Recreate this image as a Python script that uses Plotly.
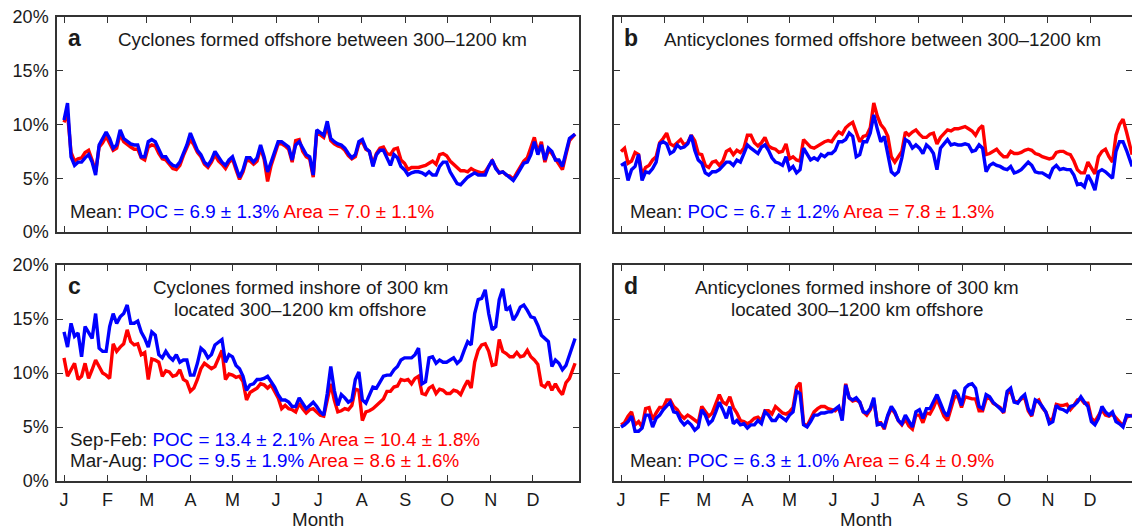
import plotly.graph_objects as go

W, H = 1132, 532

# sampling days (day of year): main grid every 5 days, plus offset grid in between
days_main = list(range(1, 362, 5)) + [365]
days_mid = [1 + 2.5 + 5 * k for k in range(72)]

month_ticks = [1, 32, 60, 91, 121, 152, 182, 213, 244, 274, 305, 335]
month_labels = ["J", "F", "M", "A", "M", "J", "J", "A", "S", "O", "N", "D"]
y_ticks = [0, 5, 10, 15, 20]
y_labels = ["0%", "5%", "10%", "15%", "20%"]

# ---- panel a: cyclones formed offshore 300-1200 km ----
a_poc = [10.4,7.0,6.5,6.9,6.5,8.1,9.3,7.8,9.5,8.4, 8.1,7.0,8.4,8.4,7.0,6.5,6.1,7.3,9.2,7.6,
         6.5,6.7,7.0,6.2,7.0,5.1,6.9,6.5,8.1,5.6, 7.5,8.4,7.9,8.1,7.8,7.0,9.5,9.0,8.7,8.2,
         7.8,6.9,8.4,7.8,6.1,7.6,6.9,7.2,6.1,5.3, 5.6,5.5,5.6,5.3,6.5,5.6,4.5,4.8,5.3,5.3,
         5.3,6.7,5.5,5.3,4.8,5.9,6.5,8.4,8.1,7.8, 6.7,6.1,8.7,9.1]
a_poc_mid = [12.0,6.2,6.5,7.2,5.3,8.7,8.7,8.1,8.7,8.2, 8.1,7.0,8.6,7.6,7.0,6.2,6.5,8.1,8.4,7.2,
             6.2,7.5,6.5,6.7,6.1,5.8,6.9,6.9,7.0,6.5, 8.4,8.1,6.7,8.4,7.2,5.3,9.2,10.3,8.4,8.1,
             7.3,7.2,8.6,7.5,7.2,7.6,6.2,6.9,5.8,5.5, 5.6,5.3,5.3,6.1,6.5,5.1,4.4,5.1,5.5,5.3,
             6.1,5.9,5.6,5.1,5.3,6.4,7.2,7.2,6.7,7.5, 6.7,7.5]
a_area = [10.2,7.4,6.8,7.4,6.7,7.9,8.9,7.6,9.1,8.1, 7.7,6.9,7.9,8.0,6.8,6.3,5.8,7.1,8.6,7.4,
          6.3,6.5,6.6,5.9,6.8,4.9,6.7,6.3,7.8,4.7, 7.2,8.2,7.7,8.5,7.5,6.8,9.3,8.8,8.5,8.0,
          7.6,6.8,8.2,7.7,6.3,7.8,7.3,7.7,6.7,5.8, 6.0,6.1,6.4,6.3,7.3,6.6,5.9,5.7,5.9,5.6,
          5.6,6.6,5.5,5.3,4.9,6.1,6.9,8.8,8.4,7.6, 6.8,5.8,8.5,9.1]
a_area_mid = [11.0,6.6,6.9,7.6,5.6,8.3,8.3,7.8,8.4,7.9, 7.7,6.7,8.1,7.3,6.7,5.9,6.2,7.8,8.1,7.0,
              6.0,7.2,6.3,6.5,5.8,5.6,6.6,6.6,6.8,6.2, 8.2,8.0,6.5,8.6,7.0,5.1,9.0,9.8,8.2,7.9,
              7.1,7.0,8.4,7.5,7.3,7.9,7.2,7.8,6.4,6.0, 6.0,6.2,6.6,7.2,7.1,6.3,5.7,5.6,5.7,5.5,
              6.1,6.0,5.6,5.2,5.5,6.6,7.8,7.4,6.5,7.3, 6.3,7.2]

# ---- panel b: anticyclones formed offshore 300-1200 km ----
b_poc = [6.2,4.8,6.1,4.8,5.5,6.5,8.4,7.3,8.1,7.9, 9.0,6.7,5.5,5.6,5.8,6.5,6.2,6.5,8.1,7.5,
         7.9,7.6,6.5,6.2,5.8,5.5,7.8,6.7,6.7,7.0, 7.3,8.4,8.6,8.9,7.2,8.4,10.9,8.4,7.2,5.3,
         6.9,8.4,8.1,7.3,7.8,5.8,8.2,8.1,8.1,8.2, 7.5,8.1,5.6,6.4,6.1,5.8,5.5,5.8,6.5,5.6,
         5.5,5.1,6.2,5.9,5.8,4.4,4.2,4.7,5.6,5.6, 5.0,8.4,7.6,6.1]
b_poc_mid = [6.4,5.8,7.2,5.6,5.9,8.2,8.2,7.5,7.8,8.2, 7.6,6.4,5.3,5.6,6.1,6.5,6.7,7.3,7.8,7.3,
             8.1,6.9,6.4,7.0,6.1,5.8,7.3,6.9,7.2,7.3, 7.6,8.4,9.2,7.0,8.4,9.2,9.6,8.9,5.6,5.6,
             8.6,7.8,7.8,8.1,7.3,7.8,8.6,8.2,8.1,8.1, 7.6,7.8,6.2,6.2,5.9,6.1,5.6,6.1,6.2,5.5,
             5.3,5.9,5.8,5.8,5.3,4.5,5.3,3.9,5.8,5.3, 7.5,8.4]
b_area = [7.5,6.4,7.4,5.3,6.2,7.0,8.7,8.2,8.3,8.1, 9.0,7.3,6.2,6.5,6.2,7.5,7.2,7.4,9.0,8.3,
          8.3,8.0,7.7,7.5,6.8,6.7,8.6,7.9,8.0,8.4, 8.4,9.3,9.7,10.2,8.4,9.0,12.0,10.0,8.9,6.5,
          7.5,9.0,9.5,8.8,9.1,8.2,9.1,9.4,9.6,9.8, 9.4,9.6,7.2,7.5,7.3,7.0,7.3,7.4,7.7,7.3,
          7.0,6.8,7.4,7.5,7.2,5.8,5.5,6.0,7.0,7.7, 6.5,10.0,9.3,7.2]
b_area_mid = [7.8,6.6,7.2,6.0,6.7,8.3,9.2,8.0,8.6,8.3, 8.5,7.2,6.0,6.6,6.6,7.7,7.6,7.8,9.0,8.0,
              8.8,7.8,7.4,8.2,7.0,6.6,8.3,7.8,8.2,8.5, 8.9,9.1,10.0,9.3,8.9,9.7,10.8,9.6,7.0,7.0,
              9.3,9.3,9.1,8.8,9.2,8.8,9.5,9.6,9.7,9.6, 9.0,9.9,7.3,7.7,7.0,7.5,7.3,7.6,7.6,7.2,
              6.9,6.9,7.5,7.3,6.6,5.5,6.5,5.4,7.5,7.0, 9.0,10.5]

# ---- panel c: cyclones formed inshore, located 300-1200 km offshore ----
c_poc = [13.8,14.6,13.7,14.3,13.2,12.3,12.0,15.5,15.2,16.3, 14.6,13.8,12.4,13.5,11.4,11.5,11.7,11.2,9.8,10.9,
         12.0,11.7,12.9,11.0,11.5,10.4,8.4,9.0,9.4,9.7, 8.7,7.5,7.3,6.9,7.2,7.0,6.9,6.1,10.6,7.0,
         7.7,7.5,10.1,7.2,8.7,9.2,9.8,10.3,11.2,11.4, 11.7,9.0,11.4,10.9,11.0,11.2,10.9,12.1,12.6,16.8,
         17.7,14.0,16.8,15.8,14.9,16.1,15.8,15.1,13.5,12.9, 11.2,10.3,11.7,13.2]
c_poc_mid = [12.4,13.4,11.5,13.7,15.5,12.0,14.3,14.6,15.5,14.6, 14.8,13.2,13.8,11.7,12.0,11.2,11.0,11.2,9.8,12.3,
             11.4,12.6,13.1,11.7,10.7,9.7,8.9,9.4,9.5,9.2, 8.0,7.5,6.9,7.7,6.7,7.3,6.4,8.1,8.4,8.0,
             7.3,9.4,7.5,8.0,8.6,9.7,9.8,10.6,11.4,11.4, 12.3,9.2,11.5,11.2,11.0,11.4,11.2,12.9,15.5,16.9,
             15.5,14.3,17.8,16.1,15.4,16.3,15.2,14.4,13.2,10.6, 10.9,10.7]
c_area = [11.4,10.3,9.4,10.9,10.3,10.6,9.8,12.7,12.4,14.0, 12.6,11.7,9.4,11.2,9.7,10.1,9.8,9.4,8.3,9.4,
          10.9,10.4,11.4,9.4,9.8,9.7,7.5,8.4,9.0,8.6, 8.3,6.7,6.7,6.4,6.7,6.6,6.4,6.0,9.0,6.4,
          6.7,7.0,8.4,6.4,6.7,7.3,8.3,8.7,9.4,9.4, 9.5,8.1,8.6,8.1,8.4,8.1,8.3,8.7,8.6,12.1,
          12.7,10.7,13.1,11.8,11.5,11.5,12.1,11.2,8.9,9.2, 9.0,8.0,9.5,10.9]
c_area_mid = [9.7,10.9,9.7,9.5,11.2,10.0,9.5,12.0,12.7,12.9, 12.7,11.9,11.3,11.0,10.2,9.7,10.3,9.2,8.6,10.4,
              10.6,10.6,12.1,9.9,9.6,9.2,8.2,8.6,8.9,8.9, 7.7,7.0,6.6,7.2,6.3,6.7,6.1,7.5,7.5,6.5,
              6.6,8.5,5.6,6.5,7.0,7.6,8.3,8.8,9.3,9.0, 9.7,8.0,8.8,8.5,8.1,8.4,8.0,9.3,11.0,12.6,
              12.0,10.8,12.0,11.5,11.9,11.6,11.5,10.8,8.7,8.4, 8.4,9.1]

# ---- panel d: anticyclones formed inshore, located 300-1200 km offshore ----
d_poc = [5.0,5.5,4.6,4.9,6.1,5.8,6.6,7.3,6.3,5.2, 5.2,5.0,6.1,5.6,7.3,5.8,5.3,5.2,4.9,5.2,
         5.3,6.1,5.6,5.8,6.1,8.3,5.2,5.5,6.1,6.3, 6.4,6.9,8.9,7.5,7.3,6.3,7.7,5.3,6.1,6.4,
         5.3,5.6,6.4,5.8,6.7,8.0,6.4,7.2,8.0,8.6, 9.0,6.9,8.0,7.3,6.7,8.3,7.3,7.7,6.7,7.5,
         6.9,5.3,7.0,6.6,6.9,7.3,7.3,5.5,5.8,6.4, 6.4,5.3,6.1,6.0]
d_poc_mid = [5.2,6.0,4.6,6.1,5.0,6.1,7.0,6.4,5.6,5.5, 4.7,6.6,5.3,6.4,6.6,6.9,5.6,5.3,5.2,5.6,
             6.4,5.6,6.1,5.6,6.4,8.1,5.0,6.1,6.3,6.4, 6.7,5.6,7.7,7.7,6.4,6.7,5.2,5.0,6.9,5.6,
             6.1,5.0,6.6,6.7,7.3,7.2,6.0,8.4,7.0,8.9, 8.6,6.7,7.8,7.0,6.4,8.6,7.2,8.0,6.1,7.3,
             6.4,5.5,6.7,6.4,7.0,7.8,6.9,5.2,6.9,6.1, 5.5,5.0]
d_area = [5.2,6.0,5.2,5.0,6.8,6.3,6.8,7.5,6.6,5.8, 5.9,5.4,6.4,6.3,8.0,7.1,6.8,5.6,5.3,5.8,
          5.6,6.5,6.9,6.3,6.4,8.7,5.3,5.8,6.7,6.9, 6.6,6.8,9.0,7.4,7.3,6.1,7.5,5.4,6.0,6.3,
          5.2,5.1,6.1,5.4,6.2,7.6,6.0,6.8,7.8,7.8, 7.6,6.5,7.6,7.2,6.8,8.1,7.4,7.6,6.5,7.3,
          6.8,5.6,7.1,7.0,6.6,7.5,7.2,5.8,6.0,6.1, 6.2,5.4,5.9,6.1]
d_area_mid = [5.4,6.4,5.5,6.7,5.7,6.8,7.5,6.9,6.1,6.1, 5.6,6.9,6.0,7.1,7.3,7.8,6.3,5.5,5.5,5.9,
              6.5,6.2,6.6,6.2,6.8,9.1,5.1,6.4,6.9,6.7, 6.5,5.9,7.7,7.5,6.4,6.6,5.4,4.8,6.7,5.6,
              5.7,4.8,6.1,6.3,6.8,6.8,5.6,7.8,6.8,7.7, 7.6,6.5,7.7,7.0,6.3,8.3,7.3,7.7,6.0,7.5,
              6.4,5.8,7.0,7.1,7.0,7.6,7.2,5.5,6.6,6.0, 5.8,5.1]

BLUE = "#0000ff"
RED = "#ff0000"
INK = "#1a1a1a"
AXC = "#333333"
FONT = "Liberation Sans, Arial, Helvetica, sans-serif"


def merge(main_vals, mid_vals):
    pts = sorted(zip(days_main + days_mid, main_vals + mid_vals))
    return [p[0] for p in pts], [p[1] for p in pts]


def px(x):
    return x / W


def py(y):
    return 1 - y / H


panels = [
    ("x", "y", a_poc, a_poc_mid, a_area, a_area_mid, (57, 579), (17, 232), [-4, 367.8], False, True),
    ("x2", "y2", b_poc, b_poc_mid, b_area, b_area_mid, (614, 1132), (17, 232), [-4, 364.9], False, False),
    ("x3", "y3", c_poc, c_poc_mid, c_area, c_area_mid, (57, 579), (265, 481), [-4, 367.8], True, True),
    ("x4", "y4", d_poc, d_poc_mid, d_area, d_area_mid, (614, 1132), (265, 481), [-4, 364.9], True, False),
]

fig = go.Figure()
layout = {}
for xa, ya, poc, poc_mid, area, area_mid, xd, yd, xr, showx, showy in panels:
    dx, dy = merge(area, area_mid)
    fig.add_trace(go.Scatter(x=dx, y=dy, xaxis=xa, yaxis=ya, mode="lines",
                             line=dict(color=RED, width=3.4), showlegend=False, hoverinfo="skip"))
    dx, dy = merge(poc, poc_mid)
    fig.add_trace(go.Scatter(x=dx, y=dy, xaxis=xa, yaxis=ya, mode="lines",
                             line=dict(color=BLUE, width=3.4), showlegend=False, hoverinfo="skip"))
    xkey = "xaxis" + xa[1:]
    ykey = "yaxis" + ya[1:]
    layout[xkey] = dict(
        domain=[px(xd[0]), px(xd[1])], range=xr, anchor=ya, automargin=False,
        tickmode="array", tickvals=month_ticks, ticktext=month_labels,
        showticklabels=showx, ticks="inside", ticklen=6, tickwidth=1.2, tickcolor=AXC,
        showline=True, linecolor=AXC, linewidth=1.5, mirror="ticks",
        showgrid=False, zeroline=False,
        tickfont=dict(family=FONT, size=18, color=INK), ticklabelstandoff=2,
    )
    layout[ykey] = dict(
        domain=[py(yd[1]), py(yd[0])], range=[0, 20], anchor=xa, automargin=False,
        tickmode="array", tickvals=y_ticks, ticktext=y_labels,
        showticklabels=showy, ticks="inside", ticklen=6, tickwidth=1.2, tickcolor=AXC,
        showline=True, linecolor=AXC, linewidth=1.5, mirror="ticks",
        showgrid=False, zeroline=False,
        tickfont=dict(family=FONT, size=18, color=INK), ticklabelstandoff=3,
    )

fig.update_layout(**layout)


def ann(text, x, y, size=18.8, xanchor="left", yanchor="middle", bold=False, color=INK):
    fig.add_annotation(text=("<b>%s</b>" % text) if bold else text,
                       x=px(x), y=py(y), xref="paper", yref="paper",
                       xanchor=xanchor, yanchor=yanchor, showarrow=False,
                       font=dict(family=FONT, size=size, color=color))


def stats(label, poc, area):
    return ('%s<span style="color:%s">POC = %s</span> <span style="color:%s">Area = %s</span>'
            % (label, BLUE, poc, RED, area))


# panel letters
ann("a", 66, 38, size=23, bold=True)
ann("b", 622, 38, size=23, bold=True)
ann("c", 66, 286, size=23, bold=True)
ann("d", 622, 286, size=23, bold=True)

# titles
ann("Cyclones formed offshore between 300\u20131200 km", 116, 39)
ann("Anticyclones formed offshore between 300\u20131200 km", 662, 39)
ann("Cyclones formed inshore of 300 km", 300, 287, xanchor="center")
ann("located 300\u20131200 km offshore", 300, 309, xanchor="center")
ann("Anticyclones formed inshore of 300 km", 857, 287, xanchor="center")
ann("located 300\u20131200 km offshore", 857, 309, xanchor="center")

# statistics
ann(stats("Mean: ", "6.9 \u00b1 1.3%", "7.0 \u00b1 1.1%"), 68, 211)
ann(stats("Mean: ", "6.7 \u00b1 1.2%", "7.8 \u00b1 1.3%"), 628, 211)
ann(stats("Sep-Feb: ", "13.4 \u00b1 2.1%", "10.4 \u00b1 1.8%"), 68, 439)
ann(stats("Mar-Aug: ", "9.5 \u00b1 1.9%", "8.6 \u00b1 1.6%"), 68, 460)
ann(stats("Mean: ", "6.3 \u00b1 1.0%", "6.4 \u00b1 0.9%"), 628, 460)

# x-axis titles (kept fully inside the page)
ann("Month", 318, 532, xanchor="center", yanchor="bottom")
ann("Month", 866, 532, xanchor="center", yanchor="bottom")

fig.update_layout(
    width=W, height=H,
    margin=dict(l=0, r=0, t=0, b=0, autoexpand=False),
    paper_bgcolor="white", plot_bgcolor="white",
    showlegend=False,
)

fig.write_html("out.html")
